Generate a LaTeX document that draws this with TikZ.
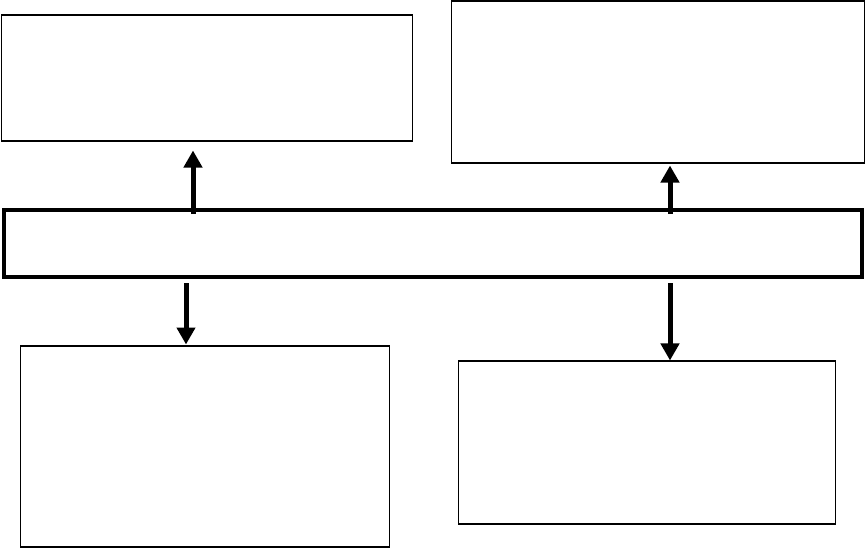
\documentclass[tikz,border=0pt]{standalone}
\usetikzlibrary{arrows.meta}
\tikzset{
	box/.style={draw,line width=0.6pt,rectangle,inner sep=0pt},
	band/.style={draw,line width=2.3pt,line cap=round,rectangle,inner sep=0pt},
	arr/.style={line width=0.1cm,-{Triangle[width=0.36cm,length=0.34cm]}}
}
\begin{document}
\begin{tikzpicture}[x=0.02cm,y=-0.02cm]
	\useasboundingbox (0,0) rectangle (866,548);
	\node[box,minimum width=8.24cm,minimum height=2.52cm] (tl) at (207,78) {};
	\node[box,minimum width=8.28cm,minimum height=3.24cm] (tr) at (658,82) {};
	\node[band,minimum width=17.16cm,minimum height=1.34cm] (bar) at (433,243.5) {};
	\node[box,minimum width=7.4cm,minimum height=4.02cm] (bl) at (205,446.5) {};
	\node[box,minimum width=7.56cm,minimum height=3.26cm] (br) at (647,442.5) {};
	\coordinate (upl) at (193,214);
	\coordinate (upr) at (670,214);
	\coordinate (dnl) at (186,283);
	\coordinate (dnr) at (670,283);
	\draw[arr,shorten >=0.18cm] (upl) -- (upl |- tl.south);
	\draw[arr,shorten >=0.04cm] (upr) -- (upr |- tr.south);
	\draw[arr,shorten >=0.02cm] (dnl) -- (dnl |- bl.north);
	\draw[arr] (dnr) -- (dnr |- br.north);
\end{tikzpicture}
\end{document}
